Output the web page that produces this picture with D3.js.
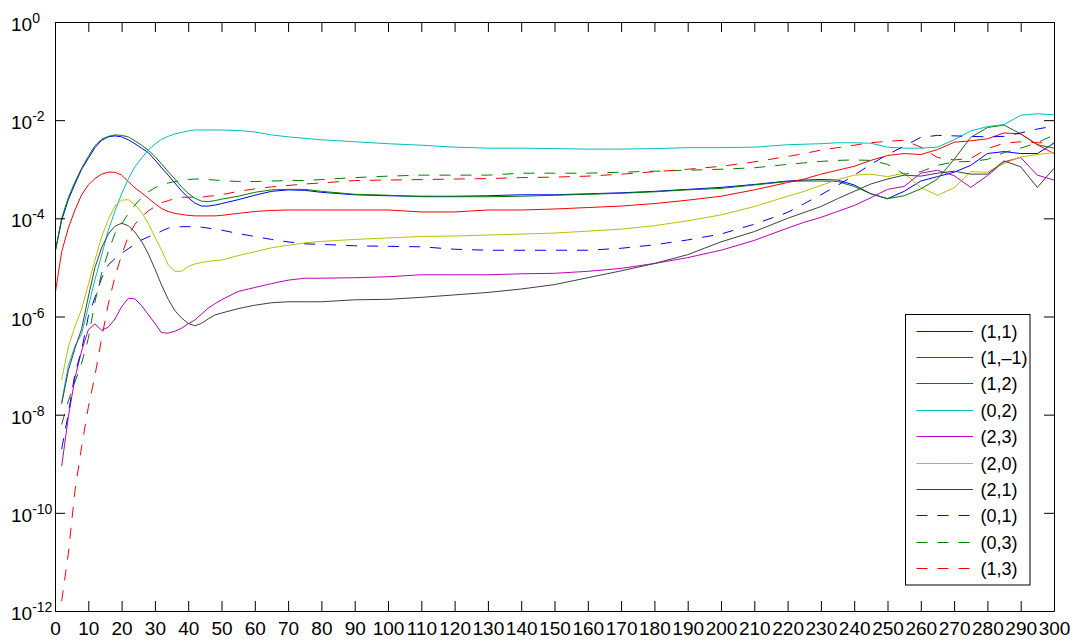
<!DOCTYPE html>
<html lang="en">
<head>
<meta charset="UTF-8">
<title>Log plot</title>
<script src="https://d3js.org/d3.v7.min.js"></script>
<style>
  body { margin: 0; background: #fff; }
  text { font-family: "Liberation Sans", Arial, Helvetica, sans-serif; fill: #000; }
  .line { fill: none; stroke-width: 1; }
</style>
</head>
<body>
<div id="chart"></div>
<script>
// x positions shared by all series
var xs = [0,2,4,6,8,10,12,14,16,18,20,22,24,26,28,30,32,34,36,38,40,42,44,46,48,50,
          55,60,65,70,75,80,
          90,100,110,120,130,140,150,160,170,180,190,200,210,220,
          225,230,235,240,245,250,255,260,265,270,275,280,285,290,295,300];

// series values, read as log10 of y
var lg11 = [-4.7,-4.04,-3.62,-3.3,-3.0,-2.78,-2.56,-2.41,-2.34,-2.32,-2.34,-2.40,-2.48,-2.57,-2.66,-2.81,-2.97,-3.12,-3.28,-3.44,-3.58,-3.69,-3.75,-3.75,-3.73,-3.70,
  -3.62,-3.53,-3.45,-3.42,-3.43,-3.47,
  -3.52,-3.54,-3.55,-3.55,-3.54,-3.52,-3.52,-3.50,-3.48,-3.45,-3.41,-3.37,-3.31,-3.24,
  -3.22,-3.21,-3.22,-3.32,-3.50,-3.60,-3.45,-3.24,-3.15,-3.06,-2.92,-2.68,-2.64,-2.68,-2.68,-2.47];
var lg1m1 = [-4.7,-4.0,-3.58,-3.26,-2.98,-2.74,-2.52,-2.39,-2.33,-2.30,-2.31,-2.34,-2.42,-2.51,-2.61,-2.74,-2.89,-3.05,-3.20,-3.36,-3.49,-3.59,-3.65,-3.66,-3.64,-3.61,
  -3.55,-3.47,-3.42,-3.41,-3.41,-3.45,
  -3.51,-3.53,-3.56,-3.56,-3.56,-3.55,-3.53,-3.51,-3.49,-3.46,-3.42,-3.39,-3.32,-3.25,
  -3.24,-3.24,-3.25,-3.35,-3.50,-3.60,-3.54,-3.40,-3.20,-2.80,-2.35,-2.15,-2.10,-2.28,-2.50,-2.57];
var lg12 = [-5.56,-4.68,-4.2,-3.83,-3.52,-3.32,-3.19,-3.10,-3.06,-3.06,-3.12,-3.25,-3.38,-3.48,-3.59,-3.70,-3.80,-3.86,-3.90,-3.92,-3.94,-3.95,-3.95,-3.95,-3.95,-3.94,
  -3.90,-3.86,-3.84,-3.83,-3.83,-3.83,
  -3.83,-3.83,-3.87,-3.87,-3.83,-3.83,-3.81,-3.78,-3.75,-3.70,-3.63,-3.55,-3.42,-3.27,
  -3.20,-3.10,-3.02,-2.94,-2.82,-2.72,-2.68,-2.70,-2.60,-2.45,-2.42,-2.38,-2.26,-2.28,-2.50,-2.68];
var lg02 = [null,-7.75,-7.0,-6.6,-6.35,-5.8,-5.25,-4.75,-4.25,-3.85,-3.5,-3.20,-2.95,-2.77,-2.61,-2.49,-2.39,-2.33,-2.28,-2.25,-2.22,-2.20,-2.20,-2.20,-2.20,-2.20,
  -2.21,-2.24,-2.30,-2.34,-2.37,-2.40,
  -2.44,-2.48,-2.51,-2.55,-2.57,-2.57,-2.58,-2.59,-2.59,-2.58,-2.56,-2.56,-2.55,-2.50,
  -2.49,-2.48,-2.46,-2.46,-2.47,-2.55,-2.57,-2.57,-2.55,-2.40,-2.22,-2.13,-2.09,-1.90,-1.87,-1.89];
var lg23 = [null,-9.05,-8.05,-7.25,-6.70,-6.27,-6.15,-6.28,-6.22,-6.05,-5.80,-5.63,-5.64,-5.78,-5.96,-6.14,-6.33,-6.34,-6.30,-6.24,-6.15,-6.07,-5.95,-5.83,-5.74,-5.66,
  -5.49,-5.41,-5.33,-5.26,-5.22,-5.22,
  -5.21,-5.19,-5.15,-5.15,-5.15,-5.13,-5.12,-5.08,-5.02,-4.92,-4.80,-4.65,-4.45,-4.20,
  -4.08,-3.98,-3.86,-3.74,-3.58,-3.41,-3.35,-3.08,-3.02,-3.13,-3.37,-3.13,-2.85,-2.76,-3.12,-3.22];
var lg20 = [null,-7.29,-6.62,-6.2,-5.85,-5.35,-4.85,-4.38,-4.02,-3.75,-3.63,-3.62,-3.72,-3.88,-4.10,-4.38,-4.65,-4.95,-5.08,-5.08,-4.98,-4.93,-4.90,-4.88,-4.86,-4.85,
  -4.76,-4.68,-4.60,-4.55,-4.50,-4.47,
  -4.43,-4.40,-4.37,-4.36,-4.34,-4.32,-4.30,-4.26,-4.22,-4.15,-4.05,-3.93,-3.76,-3.55,
  -3.45,-3.33,-3.21,-3.12,-3.10,-3.15,-3.08,-3.37,-3.53,-3.38,-3.05,-3.06,-2.88,-2.75,-2.70,-2.66];
var lg21 = [null,-7.78,-7.1,-6.65,-6.25,-5.60,-5.00,-4.60,-4.32,-4.16,-4.10,-4.15,-4.28,-4.47,-4.72,-5.03,-5.36,-5.65,-5.88,-6.03,-6.14,-6.19,-6.14,-6.05,-5.97,-5.93,
  -5.84,-5.77,-5.72,-5.70,-5.70,-5.70,
  -5.66,-5.65,-5.61,-5.56,-5.51,-5.44,-5.35,-5.21,-5.07,-4.92,-4.74,-4.48,-4.27,-4.00,
  -3.88,-3.76,-3.60,-3.45,-3.30,-3.20,-3.12,-3.14,-3.08,-3.04,-3.10,-3.10,-2.83,-2.95,-3.37,-2.98];
var lg01 = [null,-8.7,-7.98,-7.16,-6.68,-6.0,-5.61,-5.22,-4.95,-4.82,-4.71,-4.62,-4.53,-4.44,-4.38,-4.33,-4.26,-4.20,-4.18,-4.17,-4.17,-4.17,-4.18,-4.20,-4.22,-4.24,
  -4.31,-4.37,-4.43,-4.48,-4.52,-4.53,
  -4.56,-4.57,-4.58,-4.63,-4.65,-4.65,-4.65,-4.65,-4.61,-4.54,-4.44,-4.32,-4.12,-3.88,
  -3.70,-3.52,-3.33,-3.12,-2.90,-2.70,-2.53,-2.35,-2.31,-2.32,-2.33,-2.34,-2.33,-2.26,-2.18,-2.12];
var lg03 = [null,-8.2,-7.72,-7.33,-6.95,-6.45,-5.70,-5.12,-4.68,-4.31,-4.12,-3.90,-3.73,-3.58,-3.46,-3.38,-3.32,-3.28,-3.25,-3.23,-3.21,-3.20,-3.20,-3.21,-3.22,-3.23,
  -3.25,-3.25,-3.24,-3.23,-3.23,-3.21,
  -3.17,-3.14,-3.12,-3.12,-3.12,-3.08,-3.08,-3.08,-3.06,-3.04,-3.02,-3.00,-2.97,-2.90,
  -2.87,-2.84,-2.82,-2.81,-2.82,-2.90,-3.10,-3.05,-2.92,-2.85,-2.84,-2.80,-2.66,-2.57,-2.46,-2.30];
var lg13 = [null,-11.8,-10.83,-9.55,-8.65,-7.85,-7.20,-6.45,-5.75,-5.19,-4.75,-4.37,-4.12,-3.97,-3.85,-3.76,-3.68,-3.64,-3.60,-3.57,-3.57,-3.57,-3.57,-3.55,-3.54,-3.52,
  -3.45,-3.40,-3.36,-3.33,-3.30,-3.28,
  -3.23,-3.22,-3.21,-3.20,-3.19,-3.17,-3.16,-3.14,-3.10,-3.05,-3.00,-2.94,-2.85,-2.74,
  -2.68,-2.61,-2.56,-2.51,-2.46,-2.43,-2.41,-2.55,-2.76,-2.81,-2.78,-2.58,-2.47,-2.44,-2.46,-2.47];

var labels = ["(1,1)", "(1,\u20131)", "(1,2)", "(0,2)", "(2,3)", "(2,0)", "(2,1)", "(0,1)", "(0,3)", "(1,3)"];
var colors = ["#0000ff", "#008000", "#ff0000", "#00bfbf", "#bf00bf", "#bfbf00", "#404040", "#0000ff", "#008000", "#ff0000"];
var dashed = [false, false, false, false, false, false, false, true, true, true];
var allSeries = [lg11, lg1m1, lg12, lg02, lg23, lg20, lg21, lg01, lg03, lg13];

var xTicks = d3.range(0, 301, 10);
var yTickExps = [0, -2, -4, -6, -8, -10, -12];

(function() {
  var width = 1077, height = 642;
  var mLeft = 55, mRight = 1054, mTop = 22, mBottom = 611;

  var svg = d3.select("#chart").append("svg")
    .attr("width", width)
    .attr("height", height);

  var x = d3.scaleLinear().domain([0, 300]).range([mLeft, mRight]);
  var y = d3.scaleLog().domain([1e-12, 1]).range([mBottom, mTop]);

  svg.append("clipPath").attr("id", "plot")
    .append("rect")
    .attr("x", mLeft).attr("y", mTop)
    .attr("width", mRight - mLeft).attr("height", mBottom - mTop);

  // lines
  var line = d3.line()
    .defined(function(d) { return d[1] != null; })
    .x(function(d) { return x(d[0]); })
    .y(function(d) { return y(Math.pow(10, d[1])); });

  var g = svg.append("g").attr("clip-path", "url(#plot)");
  allSeries.forEach(function(s, i) {
    g.append("path")
      .attr("class", "line")
      .attr("d", line(xs.map(function(xv, j) { return [xv, s[j]]; })))
      .attr("stroke", colors[i])
      .attr("stroke-dasharray", dashed[i] ? "11,10" : null);
  });

  // axes, ticks pointing inwards
  var yVals = yTickExps.map(function(e) { return Math.pow(10, e); });

  svg.append("g")
    .attr("transform", "translate(0," + mBottom + ")")
    .call(d3.axisBottom(x).tickValues(xTicks).tickSizeInner(-10).tickSizeOuter(0).tickPadding(11));

  svg.append("g")
    .attr("transform", "translate(0," + mTop + ")")
    .call(d3.axisTop(x).tickValues(xTicks).tickSizeInner(-10).tickSizeOuter(0).tickFormat(""));

  svg.append("g")
    .attr("transform", "translate(" + mLeft + ",0)")
    .call(d3.axisLeft(y).tickValues(yVals).tickSizeInner(-10).tickSizeOuter(0).tickFormat(""));

  svg.append("g")
    .attr("transform", "translate(" + mRight + ",0)")
    .call(d3.axisRight(y).tickValues(yVals).tickSizeInner(-10).tickSizeOuter(0).tickFormat(""));

  svg.selectAll(".domain, .tick line").attr("stroke", "#000").attr("stroke-width", 1);
  svg.selectAll(".tick text").style("font-size", "19px").attr("font-family", null);

  // y labels as 10 with superscript exponent
  var yl = svg.append("g").selectAll("text")
    .data(yTickExps)
    .enter().append("text")
    .attr("x", 11)
    .attr("y", function(e) { return y(Math.pow(10, e)) + 9; })
    .style("font-size", "19px");
  yl.append("tspan").text("10");
  yl.append("tspan")
    .attr("dy", -8)
    .style("font-size", "14px")
    .text(function(e) { return e === 0 ? "0" : "-" + (-e); });

  // legend
  var lx = 905.5, ly = 314.5, rowH = 26.4;
  var legend = svg.append("g");
  legend.append("rect")
    .attr("x", lx).attr("y", ly)
    .attr("width", 124.5).attr("height", 270.5)
    .attr("fill", "#fff").attr("stroke", "#000").attr("stroke-width", 1);

  labels.forEach(function(lab, i) {
    var ry = Math.round(ly + 16 + i * rowH) + 0.5;
    legend.append("line")
      .attr("x1", lx + 11).attr("x2", lx + 67.5)
      .attr("y1", ry).attr("y2", ry)
      .attr("stroke", colors[i]).attr("stroke-width", 1)
      .attr("stroke-dasharray", dashed[i] ? "11,10" : null);
    legend.append("text")
      .attr("x", lx + 75).attr("y", ry + 6.5)
      .style("font-size", "18px")
      .text(lab);
  });
})();
</script>
</body>
</html>
